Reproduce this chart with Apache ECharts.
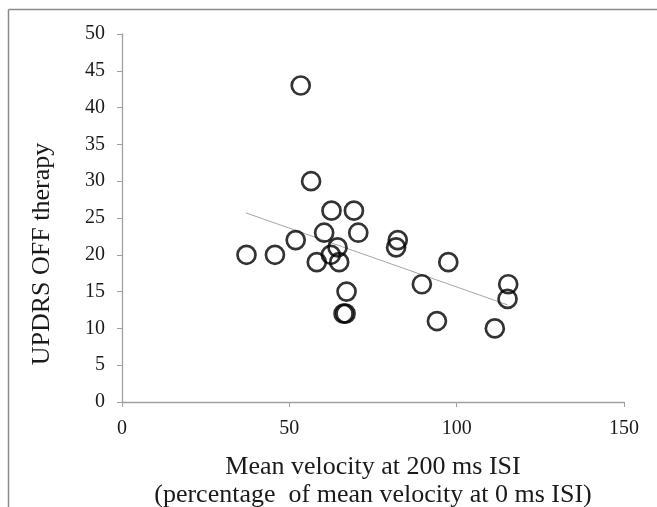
<!DOCTYPE html>
<html>
<head>
<meta charset="utf-8">
<script src="https://cdn.jsdelivr.net/npm/echarts@6/dist/echarts.min.js"></script>
<style>
  html, body { margin: 0; padding: 0; background: #fff; }
  #main { width: 657px; height: 507px; }
</style>
</head>
<body>
<div id="main"></div>
<script>
// velocity at 200 ms ISI (% of 0 ms ISI) vs UPDRS OFF
var velocity = [53.4, 56.5, 62.6, 69.3, 60.4, 70.6, 51.9, 37.2, 45.7, 64.4, 62.4, 58.2,
  64.9, 82.4, 81.9, 97.5, 89.6, 67.1, 66.2, 66.8, 94.1, 111.4, 115.4, 115.2];
var updrs = [43, 30, 26, 26, 23, 23, 22, 20, 20, 21, 20, 19,
  19, 22, 21, 19, 16, 15, 12, 12, 11, 10, 16, 14];
// trend line ends
var trendX = [37, 115.2];
var trendY = [25.7, 13.2];

var xTitle = "Mean velocity at 200 ms ISI\n(percentage  of mean velocity at 0 ms ISI)";
var yTitle = "UPDRS OFF therapy";

var serif = "'Liberation Serif', 'Times New Roman', serif";

var points = velocity.map(function (v, i) { return [v, updrs[i]]; });
var trend = trendX.map(function (v, i) { return [v, trendY[i]]; });

var myChart = echarts.init(document.getElementById("main"));
myChart.setOption({
  backgroundColor: "#fff",
  animation: false,
  grid: { left: 122, right: 33, top: 34, bottom: 105, outerBoundsMode: "none" },
  xAxis: {
    type: "value",
    min: 0,
    max: 150,
    interval: 50,
    name: xTitle,
    nameLocation: "middle",
    nameGap: 51,
    nameTextStyle: { fontFamily: serif, fontSize: 26, color: "#1a1a1a", lineHeight: 28 },
    splitLine: { show: false },
    axisLine: { onZero: false, lineStyle: { color: "#a0a0a0", width: 1.3 } },
    axisTick: { show: true, length: 5, lineStyle: { color: "#a0a0a0" } },
    axisLabel: { fontFamily: serif, fontSize: 20, color: "#1a1a1a", margin: 17 }
  },
  yAxis: {
    type: "value",
    min: 0,
    max: 50,
    interval: 5,
    splitLine: { show: false },
    axisLine: { show: true, onZero: false, lineStyle: { color: "#a0a0a0", width: 1.3 } },
    axisTick: { show: true, length: 5, lineStyle: { color: "#a0a0a0" } },
    axisLabel: { fontFamily: serif, fontSize: 20, color: "#1a1a1a", margin: 17 }
  },
  graphic: [
    // outer frame (left and top only)
    { type: "line", shape: { x1: 8.5, y1: 9.5, x2: 8.5, y2: 507 }, style: { stroke: "#8a8a8a", lineWidth: 1.5 } },
    { type: "line", shape: { x1: 8.5, y1: 9.5, x2: 657, y2: 9.5 }, style: { stroke: "#8a8a8a", lineWidth: 1.5 } },
    {
      type: "text",
      x: 42,
      y: 254,
      rotation: Math.PI / 2,
      style: {
        text: yTitle,
        font: "26px " + serif,
        fill: "#1a1a1a",
        textAlign: "center",
        textVerticalAlign: "middle"
      }
    }
  ],
  series: [
    {
      type: "line",
      data: trend,
      symbol: "none",
      silent: true,
      lineStyle: { color: "#a6a6a6", width: 1 },
      z: 1
    },
    {
      type: "scatter",
      data: points,
      symbol: "circle",
      symbolSize: 18,
      itemStyle: { color: "rgba(0,0,0,0)", borderColor: "#000", borderWidth: 2.7 },
      z: 2
    }
  ]
});
</script>
</body>
</html>
